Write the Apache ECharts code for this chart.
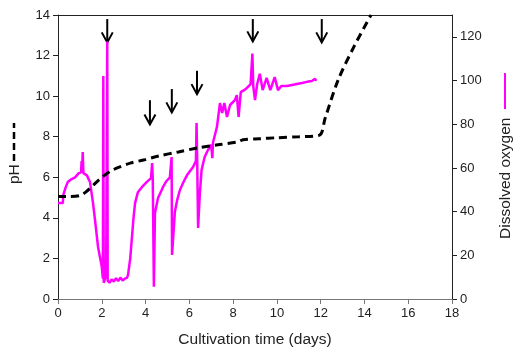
<!DOCTYPE html>
<html>
<head>
<meta charset="utf-8">
<script src="https://cdn.jsdelivr.net/npm/echarts@6/dist/echarts.min.js"></script>
<style>
  html, body { margin: 0; padding: 0; background: #fff; }
  #chart { width: 515px; height: 356px; }
</style>
</head>
<body>
<div id="chart"></div>
<script>
// pH (dashed black)
const phDays = [0, 0.5, 1.0, 1.3, 1.6, 1.95, 2.4, 2.8, 3.3, 3.9, 4.6, 5.5, 6.4, 7.3, 8.2, 8.45, 9.2, 10, 11, 11.95, 12.2, 12.8, 13.55, 14.3]
const phValues = [5.05, 5.05, 5.1, 5.3, 5.6, 5.95, 6.3, 6.5, 6.7, 6.85, 7.05, 7.25, 7.45, 7.6, 7.74, 7.85, 7.9, 7.95, 8.0, 8.08, 8.9, 10.8, 12.5, 14]

// dissolved oxygen (magenta)
const doDays = [0, 0.22, 0.24, 0.35, 0.45, 0.6, 0.78, 0.95, 1.05, 1.08, 1.1, 1.13, 1.16, 1.32, 1.46, 1.6, 1.69, 1.83, 2.0, 2.05,
  2.07, 2.09, 2.15, 2.2, 2.25, 2.27, 2.35, 2.45, 2.55, 2.65, 2.75, 2.85, 2.95, 3.05, 3.15, 3.2, 3.3, 3.38, 3.45, 3.52, 3.65, 3.84, 4.06,
  4.25, 4.3, 4.33, 4.38, 4.43, 4.57, 4.8, 4.95, 5.11, 5.19, 5.21, 5.34, 5.45, 5.57, 5.75, 5.89, 6.17, 6.3, 6.33, 6.36,
  6.4, 6.48, 6.56, 6.7, 6.85, 7.0, 7.05, 7.08, 7.26, 7.4, 7.5, 7.6, 7.72, 7.86, 8.08, 8.17, 8.25, 8.35, 8.5, 8.63,
  8.8, 8.88, 8.92, 9.0, 9.1, 9.22, 9.35, 9.53, 9.7, 9.9, 10.05, 10.2, 10.45, 10.7, 10.9, 11.15, 11.37, 11.6, 11.74, 11.8]
const doValues = [43.9, 43.9, 47.5, 51.1, 53.6, 54.8, 55.7, 57.6, 58, 63.1, 58.5, 67.3, 57.6, 56.6, 53.6, 43.9, 36.2, 23.8, 14.7, 9.3,
  102.1, 7.4, 6.5, 11.1, 117.9, 8.4, 7.4, 9.0, 8.0, 9.5, 8.2, 9.8, 8.5, 9.3, 9.7, 11.1, 18.6, 28.4, 37.1, 43.9, 48.9, 51.3, 53.6,
  55.3, 62.2, 54.8, 5.6, 39.4, 46.2, 51.3, 53.9, 55.7, 65.0, 20.2, 39.9, 45.5, 49.9, 53.9, 56.6, 60.4, 63.1, 80.5, 63.1,
  32.5, 48.3, 59.1, 65.0, 68.2, 70.6, 64.5, 71.5, 78.7, 89.7, 85.2, 89.7, 83.3, 88.8, 91.0, 93.3, 83.3, 94.7, 95.6, 96.6,
  98.4, 112.4, 97.5, 91.0, 98.4, 103.1, 95.6, 101.2, 95.6, 101.6, 95.6, 97.5, 97.5, 98.0, 98.4, 98.9, 99.4, 99.8, 100.8, 99.8]

// arrows (day, top pH, tip pH)
const arrowDays = [2.25, 4.2, 5.2, 6.35, 8.9, 12.05]
const arrowTops = [13.8, 9.8, 10.35, 11.25, 13.8, 13.8]
const arrowTips = [12.65, 8.6, 9.2, 10.1, 12.7, 12.65]

const xTicks = { min: 0, max: 18, interval: 2 }
const phTicks = { min: 0, max: 14, interval: 2 }
const doTicks = { min: 0, max: 130, interval: 20 }

const font = 'Liberation Sans, Arial, sans-serif'
const chart = echarts.init(document.getElementById('chart'))

chart.setOption({
  animation: false,
  grid: { left: 58, right: 63, top: 15, bottom: 57 },
  xAxis: [{
    type: 'value', ...xTicks,
    name: 'Cultivation time (days)', nameLocation: 'middle', nameGap: 33,
    nameTextStyle: { fontFamily: font, fontSize: 15.5, color: '#222' },
    axisLine: { onZero: false, lineStyle: { color: '#777', width: 1 } },
    axisTick: { length: 5, lineStyle: { color: '#777' } },
    axisLabel: { margin: 8, fontFamily: font, fontSize: 13, color: '#222' },
    splitLine: { show: false }
  }, {
    type: 'value', position: 'top', ...xTicks,
    axisLine: { show: true, onZero: false, lineStyle: { color: '#222' } },
    axisTick: { show: false }, axisLabel: { show: false }, splitLine: { show: false }
  }],
  yAxis: [{
    type: 'value', ...phTicks, position: 'left',
    axisLine: { show: true, onZero: false, lineStyle: { color: '#222' } },
    axisTick: { show: true, length: 5, lineStyle: { color: '#222' } },
    axisLabel: { margin: 8, fontFamily: font, fontSize: 13, color: '#222' },
    splitLine: { show: false }
  }, {
    type: 'value', ...doTicks, position: 'right',
    axisLine: { show: true, onZero: false, lineStyle: { color: '#222' } },
    axisTick: { show: true, length: 5, lineStyle: { color: '#222' } },
    axisLabel: { margin: 8, fontFamily: font, fontSize: 13, color: '#222', showMaxLabel: false },
    splitLine: { show: false }
  }],
  series: [{
    type: 'line', yAxisIndex: 1, showSymbol: false,
    data: doDays.map((d, i) => [d, doValues[i]]),
    lineStyle: { color: '#ff00ff', width: 2.5 }
  }, {
    type: 'line', yAxisIndex: 0, showSymbol: false, smooth: 0.3,
    data: phDays.map((d, i) => [d, phValues[i]]),
    lineStyle: { color: '#000', width: 3, type: [8, 5] }
  }, {
    type: 'custom', yAxisIndex: 0,
    data: arrowDays.map((d, i) => [d, arrowTops[i], arrowTips[i]]),
    renderItem(params, api) {
      const top = api.coord([api.value(0), api.value(1)])
      const tip = api.coord([api.value(0), api.value(2)])
      const style = { stroke: '#000', lineWidth: 2, fill: null }
      return {
        type: 'group',
        children: [
          { type: 'line', shape: { x1: top[0], y1: top[1], x2: tip[0], y2: tip[1] }, style },
          { type: 'polyline', shape: { points: [[tip[0] - 5.5, tip[1] - 10], [tip[0], tip[1]], [tip[0] + 5.5, tip[1] - 10]] }, style }
        ]
      }
    }
  }],
  graphic: [
    { type: 'text', x: 7, y: 184, rotation: Math.PI / 2,
      style: { text: 'pH', font: '15.5px ' + font, fill: '#222' } },
    { type: 'line', shape: { x1: 14, y1: 161, x2: 14, y2: 123 },
      style: { stroke: '#000', lineWidth: 2.5, lineDash: [7, 4] } },
    { type: 'text', x: 498, y: 239, rotation: Math.PI / 2,
      style: { text: 'Dissolved oxygen', font: '15.5px ' + font, fill: '#222' } },
    { type: 'line', shape: { x1: 505, y1: 73, x2: 505, y2: 109 },
      style: { stroke: '#ff00ff', lineWidth: 2 } }
  ]
})
</script>
</body>
</html>
